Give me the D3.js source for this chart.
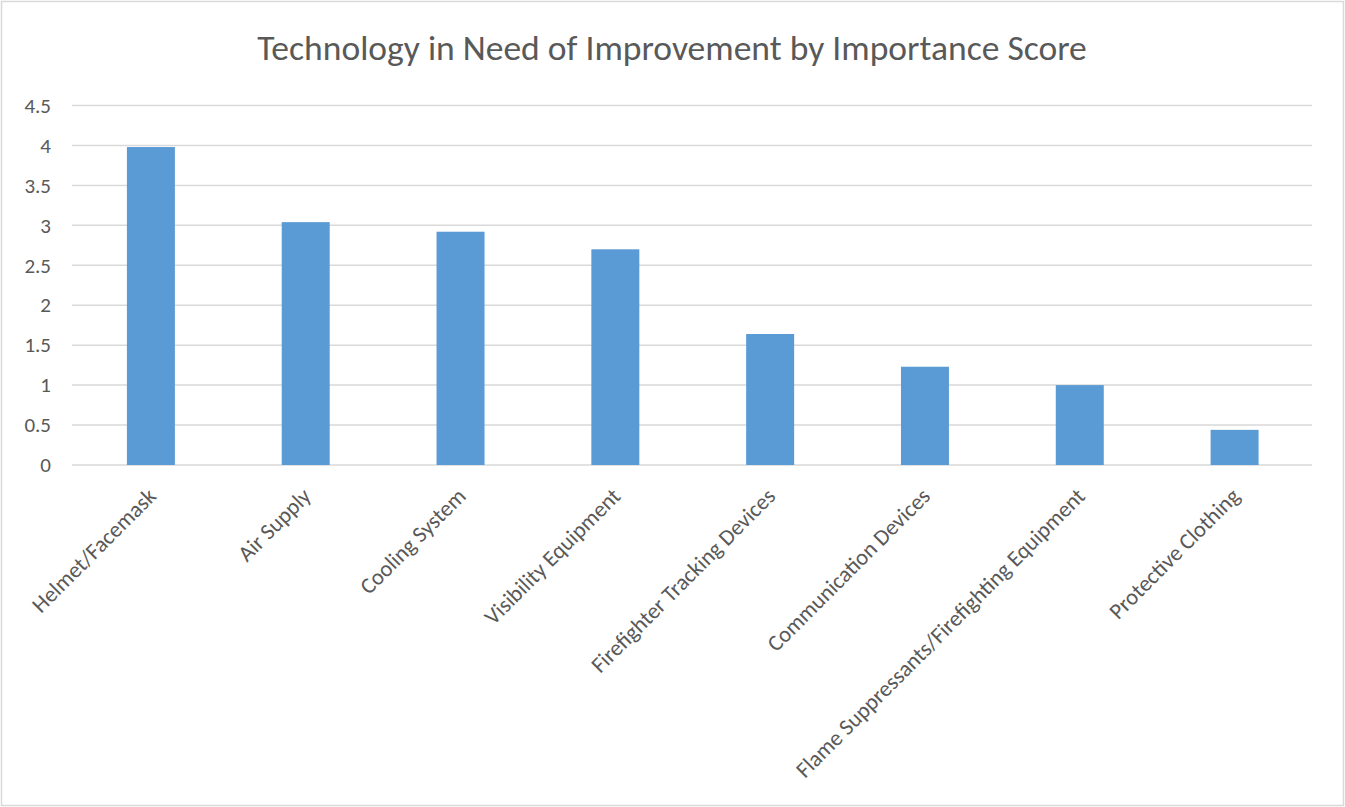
<!DOCTYPE html>
<html>
<head>
<meta charset="utf-8">
<script src="https://cdn.jsdelivr.net/npm/d3@7"></script>
<style>
  html, body { margin: 0; padding: 0; background: #fff; }
  svg { display: block; }
</style>
</head>
<body>
<svg id="chart" width="1345" height="807"></svg>
<script>
const title = "Technology in Need of Improvement by Importance Score";
const categories = [
  "Helmet/Facemask",
  "Air Supply",
  "Cooling System",
  "Visibility Equipment",
  "Firefighter Tracking Devices",
  "Communication Devices",
  "Flame Suppressants/Firefighting Equipment",
  "Protective Clothing"
];
const scores = [3.98, 3.04, 2.92, 2.70, 1.64, 1.23, 1.00, 0.44];
const yTicks = [0, 0.5, 1, 1.5, 2, 2.5, 3, 3.5, 4, 4.5];

const FONT = "Calibri, Carlito, Lato, 'Open Sans', sans-serif";
const svg = d3.select("#chart");

// outer border
svg.append("rect")
  .attr("x", 1.5).attr("y", 1.5)
  .attr("width", 1342).attr("height", 804)
  .attr("fill", "#fff").attr("stroke", "#d9d9d9").attr("stroke-width", 1.5);

const plotLeft = 72, plotRight = 1312;
const y = d3.scaleLinear().domain([0, 4.5]).range([465, 105.5]);
const x = d3.scaleBand()
  .domain(categories)
  .range([plotLeft + 1.5, plotRight])
  .paddingInner(0.69)
  .paddingOuter(0.345);

// gridlines
svg.append("g").selectAll("line")
  .data(yTicks)
  .join("line")
  .attr("x1", plotLeft).attr("x2", plotRight)
  .attr("y1", d => y(d)).attr("y2", d => y(d))
  .attr("stroke", "#d9d9d9").attr("stroke-width", 1.5);

// y axis labels
const yAxis = d3.axisLeft(y).tickValues(yTicks).tickSize(0).tickPadding(0)
  .tickFormat(d => String(d));
const gy = svg.append("g").attr("transform", "translate(51,0)").call(yAxis);
gy.select(".domain").remove();
gy.selectAll("text")
  .attr("font-family", FONT).attr("font-size", 21)
  .attr("fill", "#595959");

// bars
svg.append("g").selectAll("rect")
  .data(categories.map((c, i) => ({ c, v: scores[i] })))
  .join("rect")
  .attr("x", d => x(d.c))
  .attr("width", x.bandwidth())
  .attr("y", d => y(d.v))
  .attr("height", d => y(0) - y(d.v))
  .attr("fill", "#5b9bd5");

// category labels
svg.append("g").selectAll("text")
  .data(categories)
  .join("text")
  .attr("transform", d => `translate(${x(d) + x.bandwidth() / 2 + 1},492) rotate(-45)`)
  .attr("text-anchor", "end")
  .attr("dy", "0.35em")
  .attr("font-family", FONT).attr("font-size", 22.5)
  .attr("fill", "#595959")
  .text(d => d);

// title
const t = svg.append("text")
  .attr("x", 672).attr("y", 60)
  .attr("text-anchor", "middle")
  .attr("font-family", FONT).attr("font-size", 32)
  .attr("fill", "#595959")
  .text(title);
const w = t.node().getComputedTextLength();
t.attr("font-size", 32 * 830 / w);
</script>
</body>
</html>
